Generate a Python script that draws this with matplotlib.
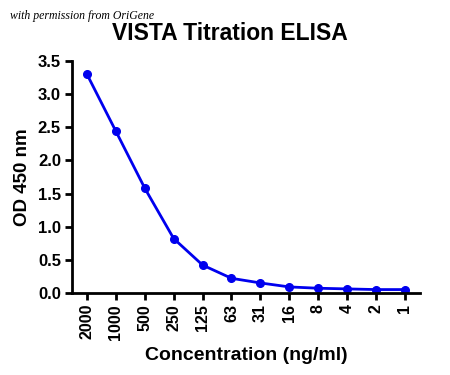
import matplotlib
matplotlib.use("Agg")
import matplotlib.pyplot as plt

concentrations = ["2000", "1000", "500", "250", "125", "63", "31", "16", "8", "4", "2", "1"]
od450 = [3.30, 2.44, 1.58, 0.82, 0.42, 0.22, 0.15, 0.09, 0.07, 0.06, 0.05, 0.05]
yticks = [0.0, 0.5, 1.0, 1.5, 2.0, 2.5, 3.0, 3.5]

plt.rcParams['font.family'] = ['Liberation Sans', 'DejaVu Sans']

fig = plt.figure(figsize=(4.5, 3.75), dpi=100)
ax = fig.add_axes([0.16, 0.219, 0.773, 0.618])
x = list(range(len(concentrations)))
ax.plot(x, od450, color='#0000ee', lw=2, marker='o', ms=5.5)
ax.set_xlim(-0.52, 11.52)
ax.set_ylim(0, 3.5)
ax.set_xticks(x)
ax.set_xticklabels(concentrations, rotation=90, fontsize=11.5, fontweight='bold')
ax.set_yticks(yticks)
ax.set_yticklabels([f"{v:.1f}" for v in yticks], fontsize=12, fontweight='bold')
for s in ['top', 'right']:
    ax.spines[s].set_visible(False)
for s in ['left', 'bottom']:
    ax.spines[s].set_linewidth(2)
ax.tick_params(width=2, length=5, direction='out', pad=3)
ax.set_ylabel("OD 450 nm", fontsize=13.5, fontweight='bold', labelpad=5)
ax.set_xlabel("Concentration (ng/ml)", fontsize=14, fontweight='bold', labelpad=5)
fig.text(0.51, 0.912, "VISTA Titration ELISA", ha='center', va='center', fontsize=16.5, fontweight='bold')
fig.text(0.022, 0.958, "with permission from OriGene", ha='left', va='center', fontsize=8.5,
         style='italic', family=['Liberation Serif'])
fig.savefig("out.png", dpi=100)
